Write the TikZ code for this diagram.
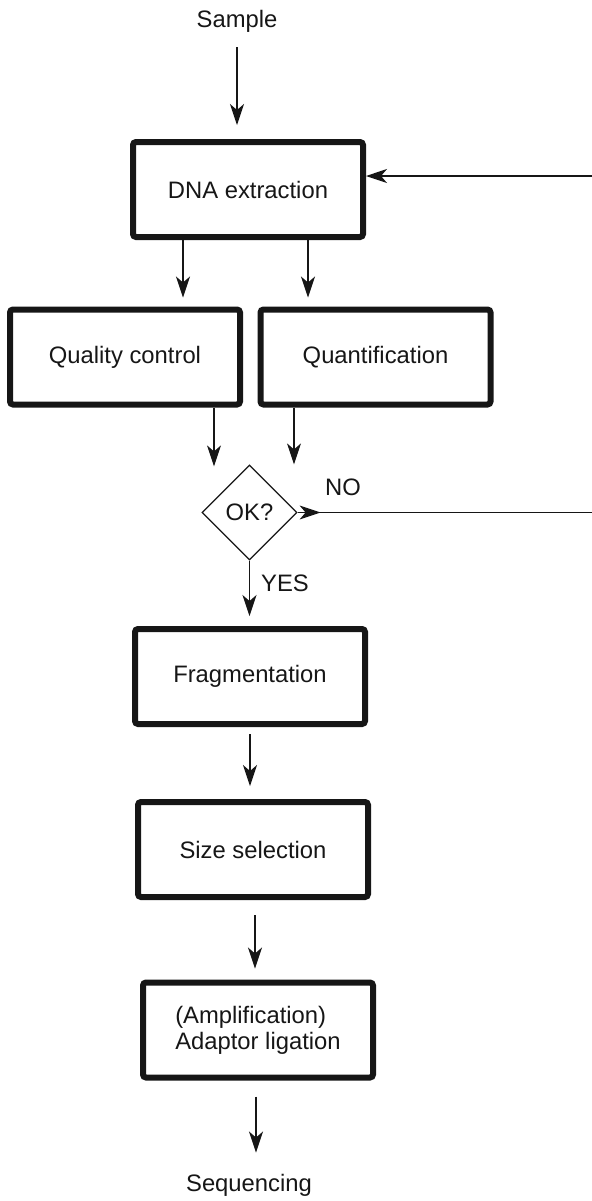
\documentclass[tikz,border=0pt]{standalone}
\usepackage{fontspec}
\setmainfont{Liberation Sans}
\usetikzlibrary{arrows.meta,shapes.geometric,decorations.markings}
\definecolor{ink}{HTML}{161616}
\begin{document}
\begin{tikzpicture}[x=0.5pt,y=-0.5pt,
  font=\fontsize{11.9}{13}\selectfont, text=ink,
  stepbox/.style={draw=ink, line width=3pt, rounded corners=1.5pt,
    minimum width=115pt, minimum height=47.5pt, inner sep=0pt, align=center},
  decision/.style={draw=ink, line width=0.6pt, diamond, aspect=1,
    minimum width=47.5pt, minimum height=47.5pt, inner sep=0pt},
  tag/.style={inner sep=0pt},
  arr/.style={draw=ink, line width=0.6pt, -{Stealth[length=10.5pt,width=7pt,inset=3pt]}},
  link/.style={draw=ink, line width=0.6pt}]
\useasboundingbox (0,0) rectangle (592,1201);

% labels outside the boxes
\node[tag] (sample) at (237,21) {Sample};
\node[tag] (seq) at (249,1185) {Sequencing};
\node[tag] (no) at (343,487) {NO};
\node[tag] (yes) at (285,583) {YES};

% process steps
\node[stepbox] (dna)   at (248,189.5) {DNA extraction};
\node[stepbox] (qc)    at (125,357)   {Quality control};
\node[stepbox] (quant) at (375.5,357) {Quantification};
\node[decision] (ok)   at (249.5,512.5) {OK?};
\node[stepbox] (frag)  at (250,676.5) {Fragmentation};
\node[stepbox] (size)  at (253,849.5) {Size selection};
\node[stepbox, align=left] (amp) at (258,1030) {(Amplification)\\Adaptor ligation};

% free ends of the feedback loop at the right margin
\coordinate (backin)  at (592,176);
\coordinate (backout) at (592,512.5);

% main flow
\draw[arr, shorten <=7.5pt, shorten >=7pt] (sample.south -| 237,0) -- (dna.north -| 237,0);
\draw[arr, shorten >=4.5pt] (dna.south -| 183,0) -- (qc.north -| 183,0);
\draw[arr, shorten >=4.5pt] (dna.south -| 308,0) -- (quant.north -| 308,0);
\draw[arr, shorten >=-1pt] (qc.south -| 214,0) -- (ok.north -| 214,0);
\draw[arr] (quant.south -| 294,0) -- (ok.north -| 294,0);
\draw[arr, shorten >=5pt] (ok.south) -- (frag.north -| ok.south);
\draw[arr, shorten <=3.5pt, shorten >=6.5pt] (frag.south) -- (size.north -| frag.south);
\draw[arr, shorten <=7.5pt, shorten >=5.5pt] (size.south -| 255,0) -- (amp.north -| 255,0);
\draw[arr, shorten <=8pt, shorten >=10.5pt] (amp.south -| 256,0) -- (seq.north -| 256,0);

% rejection path and return to extraction
\draw[link, postaction={decorate}, decoration={markings,
  mark=at position 11.5pt with {\arrow{Stealth[length=10.5pt,width=7pt,inset=3pt]}}}]
  (ok.east) -- (backout);
\draw[arr] (backin) -- (dna.east |- backin);
\end{tikzpicture}
\end{document}
